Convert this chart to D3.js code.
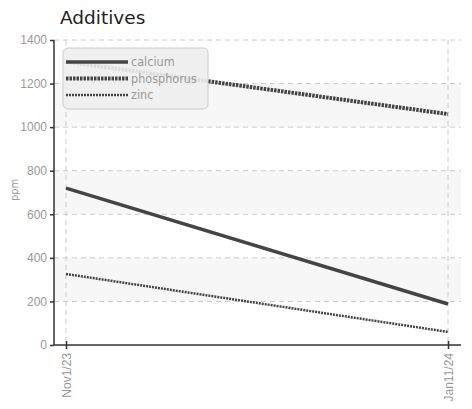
<!DOCTYPE html>
<html>
<head>
<meta charset="utf-8">
<script src="https://cdn.jsdelivr.net/npm/d3@7"></script>
<style>
  body { margin: 0; background: #fff; }
  svg { display: block; font-family: "Liberation Sans Narrow", "DejaVu Sans Condensed", "Roboto", sans-serif; }
  .tick text { fill: #999; font-size: 12px; }
</style>
</head>
<body>
<div id="chart"></div>
<script>
// chart data
const dates = ["Nov1/23", "Jan11/24"];
const calcium = [720, 188];
const phosphorus = [1300, 1060];
const zinc = [326, 60];
const seriesNames = ["calcium", "phosphorus", "zinc"];
const yTicks = [0, 200, 400, 600, 800, 1000, 1200, 1400];

const W = 472, H = 409;
const margin = { top: 40, right: 11, bottom: 64, left: 54 };
const width = W - margin.left - margin.right;
const height = H - margin.top - margin.bottom;

const styles = {
    calcium: { width: 3.5, dash: null },
    phosphorus: { width: 4, dash: "2.5,1" },
    zinc: { width: 2.5, dash: "2,1" }
};

const svg = d3.select("#chart").append("svg")
    .attr("width", W).attr("height", H);

svg.append("text")
    .attr("x", 60).attr("y", 24)
    .attr("font-family", "DejaVu Sans, sans-serif")
    .attr("font-size", 18.5)
    .attr("fill", "#222")
    .text("Additives");

const g = svg.append("g").attr("transform", `translate(${margin.left},${margin.top})`);

const x = d3.scalePoint().domain(dates).range([12, 394]);
const y = d3.scaleLinear().domain([0, 1400]).range([height, 0]);

// alternating bands
for (let i = 1; i < yTicks.length - 1; i += 2) {
    g.append("rect")
        .attr("x", 0).attr("width", width)
        .attr("y", y(yTicks[i + 1])).attr("height", y(yTicks[i]) - y(yTicks[i + 1]))
        .attr("fill", "#f7f7f7");
}

// grid
g.selectAll(".hgrid").data(yTicks.slice(1)).enter().append("line")
    .attr("x1", 0).attr("x2", width)
    .attr("y1", d => y(d)).attr("y2", d => y(d))
    .attr("stroke", "#ccc").attr("stroke-dasharray", "5,4");
g.selectAll(".vgrid").data(dates).enter().append("line")
    .attr("x1", d => x(d)).attr("x2", d => x(d))
    .attr("y1", 0).attr("y2", height)
    .attr("stroke", "#ccc").attr("stroke-dasharray", "5,4");

// lines
const seriesData = { calcium, phosphorus, zinc };
const line = d3.line().x((d, i) => x(dates[i])).y(d => y(d));
seriesNames.forEach(name => {
    const st = styles[name];
    g.append("path")
        .datum(seriesData[name])
        .attr("d", line)
        .attr("fill", "none")
        .attr("stroke", "#444")
        .attr("stroke-width", st.width)
        .attr("stroke-dasharray", st.dash);
});

// axes
const yAxis = g.append("g")
    .call(d3.axisLeft(y).tickValues(yTicks).tickSize(4).tickPadding(3).tickFormat(d3.format("d")));
yAxis.select(".domain").attr("stroke", "#333").attr("stroke-width", 1.5).attr("d", `M0,0V${height}`);
yAxis.selectAll(".tick line").attr("stroke", "#333").attr("stroke-width", 1.5);

const xAxis = g.append("g").attr("transform", `translate(0,${height})`)
    .call(d3.axisBottom(x).tickSize(0));
xAxis.select(".domain").attr("stroke", "#333").attr("stroke-width", 1.5).attr("d", `M0,0H${width}`);
xAxis.selectAll(".tick line").attr("y1", -4).attr("y2", 4).attr("stroke", "#333").attr("stroke-width", 1.5);
xAxis.selectAll(".tick text")
    .attr("transform", "rotate(-90)")
    .attr("text-anchor", "end")
    .attr("x", -8).attr("y", 0).attr("dy", "0.35em");

svg.append("text")
    .attr("transform", "rotate(-90)")
    .attr("x", -190).attr("y", 18)
    .attr("text-anchor", "middle")
    .attr("font-size", 11).attr("fill", "#999")
    .text("ppm");

// legend
const legend = svg.append("g").attr("transform", "translate(63,48)");
legend.append("rect")
    .attr("width", 145).attr("height", 61).attr("rx", 5)
    .attr("fill", "#eee").attr("fill-opacity", 0.9)
    .attr("stroke", "#ccc");
seriesNames.forEach((name, i) => {
    const yy = 14 + i * 16.5;
    const st = styles[name];
    legend.append("line")
        .attr("x1", 3).attr("x2", 65).attr("y1", yy).attr("y2", yy)
        .attr("stroke", "#444").attr("stroke-width", st.width)
        .attr("stroke-dasharray", st.dash);
    legend.append("text")
        .attr("x", 68).attr("y", yy).attr("dy", "0.35em")
        .attr("font-size", 12.5).attr("fill", "#999")
        .text(name);
});
</script>
</body>
</html>
